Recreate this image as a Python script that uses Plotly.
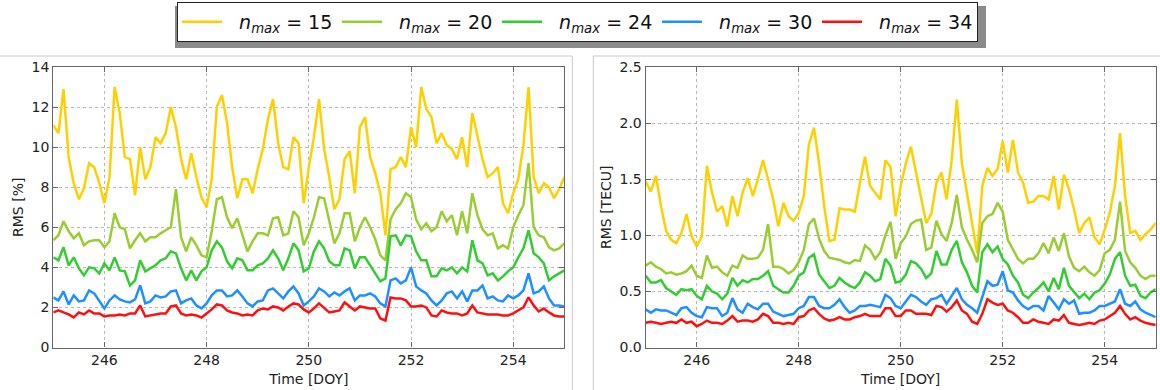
import numpy as np
import plotly.graph_objects as go

W, H = 1160, 390

# Time grid (DOY), sampled every 0.1 day
doy = np.round(np.arange(245.0, 255.0001, 0.1), 1)

labels = ["15", "20", "24", "30", "34"]
colors = ["#FFD000", "#9ACD32", "#33CC33", "#1E90FF", "#FF1010"]

# Left panel: RMS [%]
rms_pct_15 = [11.1, 10.7, 12.9, 9.5, 8.2, 7.4, 7.95, 9.2, 9.0, 8.2,
              7.2, 8.5, 13.0, 11.7, 9.5, 9.4, 7.6, 10.0, 8.4, 9.0,
              10.5, 10.2, 10.7, 12.0, 11.0, 9.4, 8.4, 9.7, 8.5, 7.5,
              7.0, 8.4, 12.0, 12.6, 11.2, 9.0, 7.45, 8.4, 8.4, 7.7,
              8.9, 9.9, 11.4, 12.4, 10.2, 9.0, 8.9, 10.5, 10.2, 7.2,
              9.0, 10.5, 12.4, 9.9, 8.5, 6.9, 7.4, 9.4, 9.8, 7.7,
              11.0, 11.5, 9.5, 8.7, 7.7, 5.6, 8.9, 9.0, 9.5, 9.0,
              11.0, 10.0, 13.0, 11.9, 11.5, 10.2, 10.7, 10.1, 9.9, 9.4,
              10.5, 9.0, 11.7, 10.5, 9.4, 8.5, 8.7, 9.0, 7.2, 6.7,
              7.7, 8.4, 10.1, 13.0, 8.5, 7.7, 8.2, 8.0, 7.45, 7.9,
              8.5]
rms_pct_20 = [5.35, 5.6, 6.3, 5.8, 5.45, 5.7, 5.1, 5.3, 5.35, 5.35,
              5.0, 5.3, 6.7, 6.0, 5.9, 4.95, 5.35, 5.7, 5.3, 5.5,
              5.5, 5.7, 5.85, 6.0, 7.9, 5.5, 4.8, 5.5, 5.1, 4.6,
              4.5, 5.8, 7.4, 7.5, 6.5, 5.95, 6.45, 5.6, 4.8, 5.3,
              5.7, 5.7, 5.6, 6.45, 6.5, 5.6, 5.7, 6.8, 6.5, 5.1,
              5.7, 6.5, 7.5, 7.45, 6.4, 5.2, 5.7, 6.7, 6.7, 5.3,
              6.0, 6.5, 6.0, 5.4, 4.6, 4.35, 6.4, 6.9, 7.2, 7.7,
              7.5, 6.4, 5.9, 6.2, 5.8, 6.0, 6.8, 6.3, 6.6, 5.6,
              6.8, 5.7, 7.7, 6.6, 5.9, 5.6, 5.7, 4.95, 5.1, 4.95,
              6.0, 6.6, 7.1, 9.2, 6.0, 5.6, 5.5, 5.0, 4.85, 4.95,
              5.2]
rms_pct_24 = [4.5, 4.35, 5.0, 4.1, 4.5, 3.95, 3.6, 4.0, 3.95, 3.7,
              4.2, 3.85, 4.5, 3.85, 3.8, 3.1, 3.35, 4.35, 3.8, 3.95,
              4.1, 4.35, 4.45, 4.8, 4.7, 3.95, 3.35, 3.85, 3.35, 3.8,
              4.0, 4.85, 5.3, 5.0, 4.3, 3.95, 4.45, 4.35, 3.85, 3.85,
              4.1, 4.2, 4.45, 4.85, 4.45, 3.85, 4.45, 5.2, 4.85, 3.8,
              3.95, 4.8, 5.3, 4.95, 4.3, 4.1, 4.1, 4.95, 4.85, 3.95,
              4.5, 4.5, 4.1, 3.7, 3.3, 3.45, 5.55, 5.6, 5.1, 5.6,
              5.55, 4.8, 4.35, 4.35, 3.55, 3.55, 3.95, 3.85, 4.0, 3.7,
              4.0, 3.8, 5.35, 4.35, 4.2, 3.6, 3.7, 3.35, 3.55, 3.8,
              4.0, 4.5, 4.95, 5.85, 4.7, 4.5, 4.2, 3.35, 3.55, 3.7,
              3.85]
rms_pct_30 = [2.5, 2.35, 2.8, 2.15, 2.6, 2.3, 2.35, 2.85, 2.7, 2.35,
              1.95, 2.35, 2.6, 2.4, 2.3, 2.25, 2.4, 3.1, 2.2, 2.3,
              2.6, 2.5, 2.55, 2.8, 2.85, 2.2, 2.35, 2.45, 2.1, 1.95,
              2.2, 2.6, 2.85, 2.85, 2.55, 2.6, 2.85, 2.55, 2.2, 2.05,
              2.3, 2.35, 2.85, 2.95, 2.7, 2.45, 2.8, 3.05, 2.7, 2.1,
              2.3, 2.55, 2.95, 2.8, 2.55, 2.75, 2.6, 2.8, 2.95, 2.35,
              2.6, 2.6, 2.7, 2.55, 2.2, 2.05, 3.35, 3.45, 3.2, 3.35,
              4.0, 3.05, 2.85, 2.7, 2.35, 2.1, 2.35, 2.7, 2.8, 2.45,
              2.8, 2.3, 2.85, 2.85, 3.1, 2.45, 2.55, 2.35, 2.3, 2.6,
              2.45, 2.6, 2.85, 3.7, 2.7, 2.8, 3.05, 2.45, 2.1, 2.1,
              2.05]
rms_pct_34 = [1.75, 1.85, 1.75, 1.65, 1.5, 1.75, 1.65, 1.85, 1.7, 1.7,
              1.55, 1.6, 1.6, 1.65, 1.6, 1.7, 1.7, 2.1, 1.55, 1.6,
              1.65, 1.7, 1.7, 2.05, 2.1, 1.7, 1.6, 1.65, 1.6, 1.5,
              1.7, 1.9, 2.15, 2.1, 1.85, 1.75, 1.7, 1.6, 1.65, 1.6,
              1.85, 1.95, 1.9, 2.05, 2.0, 1.85, 2.05, 2.2, 2.15, 1.9,
              1.75, 1.95, 2.2, 1.95, 1.75, 1.8, 1.85, 2.25, 2.05, 1.85,
              2.05, 2.0, 1.95, 1.95, 1.45, 1.35, 2.5, 2.45, 2.45, 2.35,
              2.05, 2.05, 2.1, 2.0, 1.6, 1.55, 1.85, 1.75, 1.7, 1.7,
              1.6, 1.7, 2.1, 1.75, 1.7, 1.65, 1.65, 1.65, 1.6, 1.6,
              1.7, 1.85, 2.0, 2.5, 2.1, 1.8, 1.95, 1.75, 1.6, 1.55,
              1.55]

# Right panel: RMS [TECU]
rms_tecu_15 = [1.48, 1.39, 1.53, 1.26, 1.04, 0.96, 0.93, 1.02, 1.19, 0.99,
               0.90, 0.99, 1.62, 1.38, 1.21, 1.26, 1.08, 1.35, 1.17, 1.38,
               1.51, 1.35, 1.5, 1.67, 1.5, 1.32, 1.08, 1.29, 1.17, 1.13,
               1.2, 1.35, 1.81, 1.96, 1.64, 1.26, 0.95, 0.96, 1.24, 1.23,
               1.23, 1.21, 1.47, 1.7, 1.44, 1.38, 1.32, 1.67, 1.61, 1.17,
               1.44, 1.64, 1.79, 1.56, 1.35, 1.11, 1.19, 1.47, 1.56, 1.32,
               1.67, 2.21, 1.64, 1.36, 1.11, 0.84, 1.44, 1.6, 1.53, 1.59,
               1.84, 1.56, 1.85, 1.56, 1.47, 1.29, 1.3, 1.35, 1.35, 1.32,
               1.53, 1.23, 1.54, 1.41, 1.23, 1.02, 1.11, 1.16, 0.98, 0.92,
               1.05, 1.2, 1.44, 1.91, 1.35, 1.02, 1.04, 0.96, 1.01, 1.05,
               1.11]
rms_tecu_20 = [0.73, 0.76, 0.72, 0.7, 0.66, 0.67, 0.65, 0.66, 0.68, 0.73,
               0.64, 0.62, 0.82, 0.71, 0.72, 0.67, 0.64, 0.73, 0.71, 0.82,
               0.79, 0.79, 0.8, 0.87, 1.1, 0.72, 0.72, 0.7, 0.66, 0.69,
               0.76, 0.87, 1.1, 1.15, 0.97, 0.86, 0.8, 0.79, 0.78, 0.76,
               0.75, 0.78, 0.77, 0.91, 0.87, 0.79, 0.85, 1.0, 1.12, 0.79,
               0.93, 0.99, 1.1, 1.13, 1.14, 0.87, 0.89, 1.13, 1.01, 0.95,
               1.11, 1.36, 1.07, 0.96, 0.87, 0.76, 1.11, 1.17, 1.19, 1.29,
               1.21, 0.96, 0.87, 0.79, 0.75, 0.79, 0.79, 0.84, 0.93, 0.84,
               0.98, 0.86, 1.02, 0.81, 0.71, 0.68, 0.72, 0.67, 0.64, 0.69,
               0.84, 0.87, 0.96, 1.3, 0.86, 0.76, 0.71, 0.64, 0.61, 0.64,
               0.64]
rms_tecu_24 = [0.64, 0.58, 0.58, 0.6, 0.53, 0.5, 0.47, 0.52, 0.51, 0.52,
               0.46, 0.43, 0.55, 0.5, 0.48, 0.43, 0.48, 0.62, 0.55, 0.6,
               0.58, 0.61, 0.61, 0.64, 0.68, 0.55, 0.52, 0.49, 0.49, 0.55,
               0.64, 0.67, 0.8, 0.83, 0.65, 0.59, 0.53, 0.55, 0.62, 0.58,
               0.55, 0.53, 0.58, 0.67, 0.64, 0.59, 0.61, 0.79, 0.73, 0.58,
               0.59, 0.65, 0.77, 0.75, 0.7, 0.62, 0.66, 0.86, 0.74, 0.74,
               0.87, 0.95, 0.76, 0.67, 0.55, 0.49, 0.85, 0.92, 0.85, 0.9,
               0.79, 0.74, 0.64, 0.58, 0.47, 0.44, 0.49, 0.53, 0.58, 0.5,
               0.62, 0.52, 0.71, 0.55, 0.49, 0.44, 0.48, 0.43, 0.49, 0.51,
               0.57, 0.65, 0.79, 0.85, 0.64, 0.55, 0.56, 0.46, 0.44, 0.49,
               0.52]
rms_tecu_30 = [0.34, 0.31, 0.34, 0.33, 0.33, 0.31, 0.29, 0.35, 0.36, 0.31,
               0.28, 0.27, 0.36, 0.35, 0.35, 0.28, 0.31, 0.44, 0.34, 0.31,
               0.39, 0.36, 0.34, 0.39, 0.39, 0.32, 0.3, 0.28, 0.29, 0.3,
               0.35, 0.37, 0.45, 0.45, 0.37, 0.35, 0.35, 0.38, 0.43, 0.36,
               0.31, 0.33, 0.37, 0.37, 0.38, 0.37, 0.36, 0.47, 0.44, 0.37,
               0.35, 0.41, 0.47, 0.45, 0.41, 0.38, 0.43, 0.44, 0.47, 0.39,
               0.46, 0.53, 0.43, 0.38, 0.35, 0.31, 0.45, 0.59, 0.55, 0.56,
               0.68, 0.51, 0.49, 0.42, 0.37, 0.34, 0.37, 0.37, 0.33, 0.46,
               0.4, 0.34, 0.43, 0.39, 0.42, 0.3, 0.31, 0.31, 0.33, 0.37,
               0.37, 0.39, 0.41, 0.52, 0.39, 0.37, 0.41, 0.34, 0.31, 0.29,
               0.27]
rms_tecu_34 = [0.22, 0.23, 0.22, 0.21, 0.22, 0.23, 0.22, 0.25, 0.22, 0.23,
               0.19, 0.21, 0.24, 0.22, 0.22, 0.21, 0.24, 0.28, 0.23, 0.24,
               0.24, 0.23, 0.25, 0.3, 0.28, 0.22, 0.22, 0.21, 0.22, 0.21,
               0.27, 0.28, 0.33, 0.35, 0.3, 0.26, 0.24, 0.25, 0.27, 0.25,
               0.25, 0.27, 0.28, 0.3, 0.28, 0.28, 0.28, 0.35, 0.35, 0.28,
               0.28, 0.33, 0.33, 0.3, 0.3, 0.3, 0.29, 0.37, 0.36, 0.32,
               0.36, 0.42, 0.33, 0.3, 0.23, 0.21, 0.3, 0.43, 0.4, 0.38,
               0.39, 0.33, 0.31, 0.27, 0.22, 0.22, 0.25, 0.23, 0.22, 0.21,
               0.25, 0.24, 0.29, 0.22, 0.21, 0.2, 0.21, 0.22, 0.21, 0.24,
               0.25, 0.28, 0.31, 0.37, 0.3, 0.25, 0.27, 0.24, 0.22, 0.21,
               0.2]

left_series = [rms_pct_15, rms_pct_20, rms_pct_24, rms_pct_30, rms_pct_34]
right_series = [rms_tecu_15, rms_tecu_20, rms_tecu_24, rms_tecu_30, rms_tecu_34]

FONT = "DejaVu Sans"
fig = go.Figure()

for lab, col, ys in zip(labels, colors, left_series):
    fig.add_trace(go.Scatter(
        x=doy, y=ys, mode="lines", line=dict(color=col, width=2.5),
        name=f"&nbsp;&nbsp;<i>n</i><sub><i>max</i></sub> = {lab}", legendgroup=lab,
        xaxis="x", yaxis="y"))
for lab, col, ys in zip(labels, colors, right_series):
    fig.add_trace(go.Scatter(
        x=doy, y=ys, mode="lines", line=dict(color=col, width=2.5),
        name=f"&nbsp;&nbsp;<i>n</i><sub><i>max</i></sub> = {lab}", legendgroup=lab,
        showlegend=False, xaxis="x2", yaxis="y2"))


def px(x):
    return x / W


def py(y):
    return 1 - y / H


ydom = [py(347.5), py(67.0)]

axis_common = dict(
    showline=True, linecolor="#666666", linewidth=1.3, mirror="ticks",
    ticks="inside", ticklen=5, tickcolor="#666666",
    showgrid=True, gridcolor="#b8b8b8", griddash="dot", gridwidth=1,
    zeroline=False, automargin=False,
    tickfont=dict(family=FONT, size=14, color="#222222"),
)

fig.update_layout(
    width=W, height=H,
    margin=dict(l=0, r=0, t=0, b=0),
    paper_bgcolor="white", plot_bgcolor="white",
    font=dict(family=FONT, color="#222222"),
    xaxis=dict(domain=[px(53.3), px(564.3)], range=[245, 255],
               tickvals=[246, 248, 250, 252, 254],
               title=dict(text="Time [DOY]", font=dict(family=FONT, size=14), standoff=6),
               anchor="y", **axis_common),
    yaxis=dict(domain=ydom, range=[0, 14], tickvals=list(range(0, 15, 2)),
               title=dict(text="RMS [%]", font=dict(family=FONT, size=14), standoff=4),
               anchor="x", **axis_common),
    xaxis2=dict(domain=[px(645.7), px(1155.7)], range=[245, 255],
                tickvals=[246, 248, 250, 252, 254],
                title=dict(text="Time [DOY]", font=dict(family=FONT, size=14), standoff=6),
                anchor="y2", **axis_common),
    yaxis2=dict(domain=ydom, range=[0, 2.5], tickvals=[0, 0.5, 1.0, 1.5, 2.0, 2.5],
                tickformat=".1f",
                title=dict(text="RMS [TECU]", font=dict(family=FONT, size=14), standoff=4),
                anchor="x2", **axis_common),
    showlegend=True,
    legend=dict(
        orientation="h", x=px(577.5), xanchor="center", y=py(2), yanchor="top",
        bgcolor="white", bordercolor="#222222", borderwidth=1,
        font=dict(family=FONT, size=19, color="#111111"),
        entrywidth=105, entrywidthmode="pixels",
        itemwidth=40, tracegroupgap=0,
    ),
    shapes=[
        # legend shadow
        dict(type="rect", xref="paper", yref="paper",
             x0=px(175), x1=px(986), y0=py(48), y1=py(6),
             fillcolor="#8a8a8a", line=dict(width=0), layer="below"),
        # panel borders
        dict(type="line", xref="paper", yref="paper", x0=0, x1=px(572.3),
             y0=py(56), y1=py(56), line=dict(color="#c8c8c8", width=1)),
        dict(type="line", xref="paper", yref="paper", x0=px(572.3), x1=px(572.3),
             y0=py(56), y1=0, line=dict(color="#c8c8c8", width=1)),
        dict(type="line", xref="paper", yref="paper", x0=px(593.3), x1=1,
             y0=py(56), y1=py(56), line=dict(color="#c8c8c8", width=1)),
        dict(type="line", xref="paper", yref="paper", x0=px(593.3), x1=px(593.3),
             y0=py(56), y1=0, line=dict(color="#c8c8c8", width=1)),
    ],
)

fig.write_html("out.html", config={"displayModeBar": False},
               post_script="document.body.style.margin='0';")
